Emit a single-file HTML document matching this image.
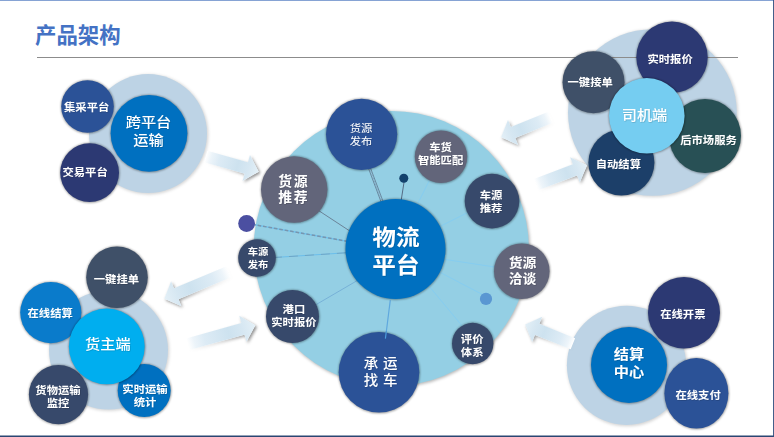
<!DOCTYPE html>
<html lang="zh"><head><meta charset="utf-8"><title>产品架构</title>
<style>
html,body{margin:0;padding:0;background:#fff;}
body{width:774px;height:437px;overflow:hidden;position:relative;font-family:"Liberation Sans","Noto Sans CJK SC",sans-serif;}
svg{position:absolute;left:0;top:0;display:block;}
text{font-family:"Liberation Sans","Noto Sans CJK SC",sans-serif;fill:#fff;text-anchor:middle;}
.ttl{fill:#4472C4;font-weight:700;font-size:21.4px;text-anchor:start;}
</style></head><body>
<svg width="774" height="437" viewBox="0 0 774 437">
<defs>
<filter id="sh" x="-20%" y="-20%" width="140%" height="140%"><feGaussianBlur stdDeviation="0.8"/></filter>
<filter id="sh2" x="-20%" y="-20%" width="140%" height="140%"><feGaussianBlur stdDeviation="1.8"/></filter>
<filter id="ash" x="-30%" y="-60%" width="160%" height="220%"><feGaussianBlur stdDeviation="1.5"/></filter>
<filter id="ts" x="-10%" y="-20%" width="120%" height="150%"><feDropShadow dx="0.5" dy="0.6" stdDeviation="0.15" flood-color="#000" flood-opacity="0.22"/></filter>
</defs>
<rect x="0" y="0" width="774" height="437" fill="#fff"/>
<rect x="0" y="0" width="774" height="1" fill="#86A3D4"/>
<rect x="0" y="435.5" width="774" height="1.5" fill="#2B4672"/>
<rect x="773.1" y="0" width="0.9" height="437" fill="#2F4D7D"/>
<text class="ttl" x="35" y="42.9">产品架构</text>
<ellipse cx="148.8" cy="134.4" rx="59.5" ry="60" fill="#000" fill-opacity="0.17" filter="url(#sh2)"/>
<ellipse cx="148" cy="133.6" rx="59" ry="59.5" fill="#BDD3E5"/>
<ellipse cx="653.2" cy="113.3" rx="84.9" ry="83.8" fill="#000" fill-opacity="0.17" filter="url(#sh2)"/>
<ellipse cx="652.4" cy="112.5" rx="84.4" ry="83.3" fill="#BDD3E5"/>
<ellipse cx="109.3" cy="350.8" rx="60" ry="60" fill="#000" fill-opacity="0.17" filter="url(#sh2)"/>
<ellipse cx="108.5" cy="350" rx="59.5" ry="59.5" fill="#BDD3E5"/>
<ellipse cx="627.3" cy="366.1" rx="60.1" ry="60.1" fill="#000" fill-opacity="0.17" filter="url(#sh2)"/>
<ellipse cx="626.5" cy="365.3" rx="59.6" ry="59.6" fill="#BDD3E5"/>
<rect x="37" y="57" width="701" height="1" fill="#8C8C8C"/>
<ellipse cx="392.1" cy="249.3" rx="138.1" ry="138.1" fill="#000" fill-opacity="0.28" filter="url(#sh2)"/>
<ellipse cx="391.3" cy="248.5" rx="137.6" ry="137.6" fill="#94CFE4"/>
<g transform="translate(205.8 156.5) rotate(15.95)"><linearGradient id="ag1" gradientUnits="userSpaceOnUse" x1="0" y1="0" x2="55.1" y2="0"><stop offset="0" stop-color="#E0EDF6" stop-opacity="0"/><stop offset="0.1" stop-color="#DDEBF5" stop-opacity="0.55"/><stop offset="0.25" stop-color="#D9E9F4" stop-opacity="0.9"/><stop offset="0.6" stop-color="#CDE2EF"/><stop offset="0.8" stop-color="#D6E7F2"/><stop offset="1" stop-color="#E4F0F7"/></linearGradient><linearGradient id="sag1" gradientUnits="userSpaceOnUse" x1="0" y1="0" x2="55.1" y2="0"><stop offset="0" stop-color="#000" stop-opacity="0"/><stop offset="0.4" stop-color="#000" stop-opacity="0.12"/><stop offset="1" stop-color="#000" stop-opacity="0.5"/></linearGradient><polygon points="0.0,-6.0 42.1,-6.0 42.1,-13.5 55.1,0.0 42.1,13.5 42.1,6.0 0.0,6.0" transform="translate(1.85 1.03)" fill="url(#sag1)" filter="url(#ash)"/><polygon points="0.0,-6.0 42.1,-6.0 42.1,-13.5 55.1,0.0 42.1,13.5 42.1,6.0 0.0,6.0" fill="#fff"/><polygon points="0.0,-6.0 42.1,-6.0 42.1,-13.5 55.1,0.0 42.1,13.5 42.1,6.0 0.0,6.0" fill="url(#ag1)"/></g>
<g transform="translate(550.6 117.2) rotate(157.87)"><linearGradient id="ag2" gradientUnits="userSpaceOnUse" x1="0" y1="0" x2="53.5" y2="0"><stop offset="0" stop-color="#E0EDF6" stop-opacity="0"/><stop offset="0.1" stop-color="#DDEBF5" stop-opacity="0.55"/><stop offset="0.25" stop-color="#D9E9F4" stop-opacity="0.9"/><stop offset="0.6" stop-color="#CDE2EF"/><stop offset="0.8" stop-color="#D6E7F2"/><stop offset="1" stop-color="#E4F0F7"/></linearGradient><linearGradient id="sag2" gradientUnits="userSpaceOnUse" x1="0" y1="0" x2="53.5" y2="0"><stop offset="0" stop-color="#000" stop-opacity="0"/><stop offset="0.4" stop-color="#000" stop-opacity="0.12"/><stop offset="1" stop-color="#000" stop-opacity="0.5"/></linearGradient><polygon points="0.0,-6.0 40.5,-6.0 40.5,-13.5 53.5,0.0 40.5,13.5 40.5,6.0 0.0,6.0" transform="translate(-0.82 -1.95)" fill="url(#sag2)" filter="url(#ash)"/><polygon points="0.0,-6.0 40.5,-6.0 40.5,-13.5 53.5,0.0 40.5,13.5 40.5,6.0 0.0,6.0" fill="#fff"/><polygon points="0.0,-6.0 40.5,-6.0 40.5,-13.5 53.5,0.0 40.5,13.5 40.5,6.0 0.0,6.0" fill="url(#ag2)"/></g>
<g transform="translate(536.1 184.7) rotate(-20.95)"><linearGradient id="ag3" gradientUnits="userSpaceOnUse" x1="0" y1="0" x2="54.6" y2="0"><stop offset="0" stop-color="#E0EDF6" stop-opacity="0"/><stop offset="0.1" stop-color="#DDEBF5" stop-opacity="0.55"/><stop offset="0.25" stop-color="#D9E9F4" stop-opacity="0.9"/><stop offset="0.6" stop-color="#CDE2EF"/><stop offset="0.8" stop-color="#D6E7F2"/><stop offset="1" stop-color="#E4F0F7"/></linearGradient><linearGradient id="sag3" gradientUnits="userSpaceOnUse" x1="0" y1="0" x2="54.6" y2="0"><stop offset="0" stop-color="#000" stop-opacity="0"/><stop offset="0.4" stop-color="#000" stop-opacity="0.12"/><stop offset="1" stop-color="#000" stop-opacity="0.5"/></linearGradient><polygon points="0.0,-6.0 41.6,-6.0 41.6,-13.5 54.6,0.0 41.6,13.5 41.6,6.0 0.0,6.0" transform="translate(0.86 1.94)" fill="url(#sag3)" filter="url(#ash)"/><polygon points="0.0,-6.0 41.6,-6.0 41.6,-13.5 54.6,0.0 41.6,13.5 41.6,6.0 0.0,6.0" fill="#fff"/><polygon points="0.0,-6.0 41.6,-6.0 41.6,-13.5 54.6,0.0 41.6,13.5 41.6,6.0 0.0,6.0" fill="url(#ag3)"/></g>
<g transform="translate(228.8 271.8) rotate(157.40)"><linearGradient id="ag4" gradientUnits="userSpaceOnUse" x1="0" y1="0" x2="69.9" y2="0"><stop offset="0" stop-color="#E0EDF6" stop-opacity="0"/><stop offset="0.1" stop-color="#DDEBF5" stop-opacity="0.55"/><stop offset="0.25" stop-color="#D9E9F4" stop-opacity="0.9"/><stop offset="0.6" stop-color="#CDE2EF"/><stop offset="0.8" stop-color="#D6E7F2"/><stop offset="1" stop-color="#E4F0F7"/></linearGradient><linearGradient id="sag4" gradientUnits="userSpaceOnUse" x1="0" y1="0" x2="69.9" y2="0"><stop offset="0" stop-color="#000" stop-opacity="0"/><stop offset="0.4" stop-color="#000" stop-opacity="0.12"/><stop offset="1" stop-color="#000" stop-opacity="0.5"/></linearGradient><polygon points="0.0,-6.0 56.9,-6.0 56.9,-13.5 69.9,0.0 56.9,13.5 56.9,6.0 0.0,6.0" transform="translate(-0.81 -1.96)" fill="url(#sag4)" filter="url(#ash)"/><polygon points="0.0,-6.0 56.9,-6.0 56.9,-13.5 69.9,0.0 56.9,13.5 56.9,6.0 0.0,6.0" fill="#fff"/><polygon points="0.0,-6.0 56.9,-6.0 56.9,-13.5 69.9,0.0 56.9,13.5 56.9,6.0 0.0,6.0" fill="url(#ag4)"/></g>
<g transform="translate(187.7 344.2) rotate(-15.54)"><linearGradient id="ag5" gradientUnits="userSpaceOnUse" x1="0" y1="0" x2="70.3" y2="0"><stop offset="0" stop-color="#E0EDF6" stop-opacity="0"/><stop offset="0.1" stop-color="#DDEBF5" stop-opacity="0.55"/><stop offset="0.25" stop-color="#D9E9F4" stop-opacity="0.9"/><stop offset="0.6" stop-color="#CDE2EF"/><stop offset="0.8" stop-color="#D6E7F2"/><stop offset="1" stop-color="#E4F0F7"/></linearGradient><linearGradient id="sag5" gradientUnits="userSpaceOnUse" x1="0" y1="0" x2="70.3" y2="0"><stop offset="0" stop-color="#000" stop-opacity="0"/><stop offset="0.4" stop-color="#000" stop-opacity="0.12"/><stop offset="1" stop-color="#000" stop-opacity="0.5"/></linearGradient><polygon points="0.0,-6.0 57.3,-6.0 57.3,-13.5 70.3,0.0 57.3,13.5 57.3,6.0 0.0,6.0" transform="translate(1.04 1.85)" fill="url(#sag5)" filter="url(#ash)"/><polygon points="0.0,-6.0 57.3,-6.0 57.3,-13.5 70.3,0.0 57.3,13.5 57.3,6.0 0.0,6.0" fill="#fff"/><polygon points="0.0,-6.0 57.3,-6.0 57.3,-13.5 70.3,0.0 57.3,13.5 57.3,6.0 0.0,6.0" fill="url(#ag5)"/></g>
<g transform="translate(572.9 343.7) rotate(-158.20)"><linearGradient id="ag6" gradientUnits="userSpaceOnUse" x1="0" y1="0" x2="51.5" y2="0"><stop offset="0" stop-color="#E0EDF6" stop-opacity="0"/><stop offset="0.1" stop-color="#DDEBF5" stop-opacity="0.55"/><stop offset="0.25" stop-color="#D9E9F4" stop-opacity="0.9"/><stop offset="0.6" stop-color="#CDE2EF"/><stop offset="0.8" stop-color="#D6E7F2"/><stop offset="1" stop-color="#E4F0F7"/></linearGradient><linearGradient id="sag6" gradientUnits="userSpaceOnUse" x1="0" y1="0" x2="51.5" y2="0"><stop offset="0" stop-color="#000" stop-opacity="0"/><stop offset="0.4" stop-color="#000" stop-opacity="0.12"/><stop offset="1" stop-color="#000" stop-opacity="0.5"/></linearGradient><polygon points="0.0,-6.0 38.5,-6.0 38.5,-13.5 51.5,0.0 38.5,13.5 38.5,6.0 0.0,6.0" transform="translate(-1.95 -0.84)" fill="url(#sag6)" filter="url(#ash)"/><polygon points="0.0,-6.0 38.5,-6.0 38.5,-13.5 51.5,0.0 38.5,13.5 38.5,6.0 0.0,6.0" fill="#fff"/><polygon points="0.0,-6.0 38.5,-6.0 38.5,-13.5 51.5,0.0 38.5,13.5 38.5,6.0 0.0,6.0" fill="url(#ag6)"/></g>
<line x1="367.3" y1="165.2" x2="382.7" y2="206.2" stroke="#56697F" stroke-width="0.7"/>
<line x1="369.2" y1="164.5" x2="384.6" y2="205.5" stroke="#56697F" stroke-width="0.7"/>
<line x1="368.2" y1="164.8" x2="383.7" y2="205.9" stroke="#7FA3BC" stroke-width="1.2" stroke-dasharray="0.8 0.8"/>
<line x1="315.0" y1="208.2" x2="353.6" y2="233.5" stroke="#5F7084" stroke-width="0.8"/>
<line x1="404.3" y1="180.5" x2="400.9" y2="202.2" stroke="#4D5F78" stroke-width="0.9"/>
<line x1="431.8" y1="175.7" x2="415.3" y2="208.4" stroke="#86CDF0" stroke-width="1"/>
<line x1="472.1" y1="210.4" x2="435.9" y2="228.5" stroke="#86CDF0" stroke-width="1"/>
<line x1="442.9" y1="259.1" x2="499.9" y2="267.8" stroke="#86CDF0" stroke-width="1"/>
<line x1="439.8" y1="272.2" x2="484.1" y2="295.4" stroke="#86CDF0" stroke-width="1"/>
<line x1="426.0" y1="282.5" x2="465.3" y2="329.7" stroke="#86CDF0" stroke-width="1"/>
<line x1="390.3" y1="300.1" x2="386.2" y2="332.5" stroke="#5FA8DE" stroke-width="1.2"/>
<line x1="311.5" y1="307.3" x2="361.1" y2="278.3" stroke="#74AED6" stroke-width="0.9"/>
<line x1="273.0" y1="257.6" x2="348.8" y2="252.6" stroke="#66BCEB" stroke-width="0.9"/>
<line x1="273.0" y1="257.6" x2="348.8" y2="252.6" stroke="#6F8FA8" stroke-width="0.9" stroke-dasharray="9 7" stroke-opacity="0.6"/>
<line x1="252.2" y1="224.3" x2="348.8" y2="241.6" stroke="#6CC0EE" stroke-width="1.3"/>
<line x1="252.2" y1="224.3" x2="348.8" y2="241.6" stroke="#7896AF" stroke-width="1.5" stroke-dasharray="3.6 1.9"/>
<circle cx="246.6" cy="223.5" r="8.4" fill="#4B4FA1"/>
<circle cx="403.8" cy="178.2" r="4.5" fill="#12416C"/>
<circle cx="486" cy="298.9" r="6.1" fill="#5A97D2"/>
<ellipse cx="149.2" cy="133.5" rx="38.85" ry="38.85" fill="#000" fill-opacity="0.42" filter="url(#sh)"/>
<ellipse cx="149" cy="133.3" rx="38.4" ry="38.4" fill="#0070C0"/>
<text font-size="13.6" font-weight="500" filter="url(#ts)" transform="translate(148.50 127.32) scale(1.12 1)">跨平台</text>
<text font-size="13.6" font-weight="500" filter="url(#ts)" transform="translate(148.50 144.62) scale(1.12 1)">运输</text>
<ellipse cx="87.7" cy="106.7" rx="26.75" ry="26.75" fill="#000" fill-opacity="0.42" filter="url(#sh)"/>
<ellipse cx="87.5" cy="106.5" rx="26.3" ry="26.3" fill="#2B5297"/>
<text font-size="10.7" font-weight="700" filter="url(#ts)" transform="translate(86.70 110.67) scale(1.06 1)">集采平台</text>
<ellipse cx="89.8" cy="172.9" rx="29.85" ry="29.85" fill="#000" fill-opacity="0.42" filter="url(#sh)"/>
<ellipse cx="89.6" cy="172.7" rx="29.4" ry="29.4" fill="#2C3973"/>
<text font-size="10.7" font-weight="700" filter="url(#ts)" transform="translate(85.10 176.27) scale(1.06 1)">交易平台</text>
<ellipse cx="361.8" cy="134.5" rx="36.05" ry="36.05" fill="#000" fill-opacity="0.42" filter="url(#sh)"/>
<ellipse cx="361.6" cy="134.3" rx="35.6" ry="35.6" fill="#2B5297"/>
<text font-size="10.7" font-weight="400" filter="url(#ts)" transform="translate(361.10 132.27) scale(1.06 1)">货源</text>
<text font-size="10.7" font-weight="400" filter="url(#ts)" transform="translate(361.10 145.27) scale(1.06 1)">发布</text>
<ellipse cx="294.4" cy="189.7" rx="33.65" ry="33.65" fill="#000" fill-opacity="0.42" filter="url(#sh)"/>
<ellipse cx="294.2" cy="189.5" rx="33.2" ry="33.2" fill="#62657A"/>
<text font-size="13.2" font-weight="700" letter-spacing="1.7" filter="url(#ts)" transform="translate(293.85 185.62) scale(1.05 1)">货源</text>
<text font-size="13.2" font-weight="700" letter-spacing="1.7" filter="url(#ts)" transform="translate(293.85 202.22) scale(1.05 1)">推荐</text>
<ellipse cx="441.2" cy="156.9" rx="26.65" ry="26.65" fill="#000" fill-opacity="0.42" filter="url(#sh)"/>
<ellipse cx="441" cy="156.7" rx="26.2" ry="26.2" fill="#62657A"/>
<text font-size="10.7" font-weight="700" filter="url(#ts)" transform="translate(440.60 150.87) scale(1.06 1)">车货</text>
<text font-size="10.7" font-weight="700" filter="url(#ts)" transform="translate(440.60 163.87) scale(1.06 1)">智能匹配</text>
<ellipse cx="492.2" cy="201.3" rx="27.75" ry="27.75" fill="#000" fill-opacity="0.42" filter="url(#sh)"/>
<ellipse cx="492" cy="201.1" rx="27.3" ry="27.3" fill="#37496B"/>
<text font-size="10.7" font-weight="700" filter="url(#ts)" transform="translate(491.00 199.07) scale(1.06 1)">车源</text>
<text font-size="10.7" font-weight="700" filter="url(#ts)" transform="translate(491.00 212.07) scale(1.06 1)">推荐</text>
<ellipse cx="522" cy="271.4" rx="28.25" ry="28.25" fill="#000" fill-opacity="0.42" filter="url(#sh)"/>
<ellipse cx="521.8" cy="271.2" rx="27.8" ry="27.8" fill="#62657A"/>
<text font-size="12.9" font-weight="700" filter="url(#ts)" transform="translate(522.50 266.90) scale(1.07 1)">货源</text>
<text font-size="12.9" font-weight="700" filter="url(#ts)" transform="translate(522.50 282.70) scale(1.07 1)">洽谈</text>
<ellipse cx="472.9" cy="343.7" rx="21.15" ry="21.15" fill="#000" fill-opacity="0.42" filter="url(#sh)"/>
<ellipse cx="472.7" cy="343.5" rx="20.7" ry="20.7" fill="#37496B"/>
<text font-size="10.7" font-weight="700" filter="url(#ts)" transform="translate(472.20 342.77) scale(1.06 1)">评价</text>
<text font-size="10.7" font-weight="700" filter="url(#ts)" transform="translate(472.20 355.57) scale(1.06 1)">体系</text>
<ellipse cx="379.2" cy="372.5" rx="40.75" ry="40.75" fill="#000" fill-opacity="0.42" filter="url(#sh)"/>
<ellipse cx="379" cy="372.3" rx="40.3" ry="40.3" fill="#2B5297"/>
<text font-size="14" font-weight="500" letter-spacing="4.6" filter="url(#ts)" transform="translate(383.10 368.22) scale(1.035 1)">承运</text>
<text font-size="14" font-weight="500" letter-spacing="4.6" filter="url(#ts)" transform="translate(383.10 385.22) scale(1.035 1)">找车</text>
<ellipse cx="292.7" cy="316.6" rx="26.95" ry="26.95" fill="#000" fill-opacity="0.42" filter="url(#sh)"/>
<ellipse cx="292.5" cy="316.4" rx="26.5" ry="26.5" fill="#37496B"/>
<text font-size="10.7" font-weight="700" filter="url(#ts)" transform="translate(293.90 312.87) scale(1.06 1)">港口</text>
<text font-size="10.7" font-weight="700" filter="url(#ts)" transform="translate(293.90 325.87) scale(1.06 1)">实时报价</text>
<ellipse cx="257.2" cy="258.2" rx="19.25" ry="19.25" fill="#000" fill-opacity="0.42" filter="url(#sh)"/>
<ellipse cx="257" cy="258" rx="18.8" ry="18.8" fill="#37496B"/>
<text font-size="9.6" font-weight="700" filter="url(#ts)" transform="translate(258.00 255.00) scale(1.07 1)">车源</text>
<text font-size="9.6" font-weight="700" filter="url(#ts)" transform="translate(258.00 267.50) scale(1.07 1)">发布</text>
<ellipse cx="395.7" cy="249.2" rx="50.45" ry="50.45" fill="#000" fill-opacity="0.42" filter="url(#sh)"/>
<ellipse cx="395.5" cy="249" rx="50" ry="50" fill="#0070C0"/>
<text font-size="22" font-weight="700" filter="url(#ts)" transform="translate(396.00 244.56) scale(1.075 1)">物流</text>
<text font-size="22" font-weight="700" filter="url(#ts)" transform="translate(396.00 272.56) scale(1.075 1)">平台</text>
<ellipse cx="593.7" cy="82.4" rx="31.45" ry="31.45" fill="#000" fill-opacity="0.42" filter="url(#sh)"/>
<ellipse cx="593.5" cy="82.2" rx="31" ry="31" fill="#3F5068"/>
<text font-size="10.7" font-weight="700" filter="url(#ts)" transform="translate(590.20 85.67) scale(1.06 1)">一键接单</text>
<ellipse cx="672.2" cy="57.4" rx="36.15" ry="36.15" fill="#000" fill-opacity="0.42" filter="url(#sh)"/>
<ellipse cx="672" cy="57.2" rx="35.7" ry="35.7" fill="#2C3973"/>
<text font-size="10.7" font-weight="700" filter="url(#ts)" transform="translate(670.10 62.67) scale(1.06 1)">实时报价</text>
<ellipse cx="705.2" cy="136.2" rx="36.45" ry="37.45" fill="#000" fill-opacity="0.42" filter="url(#sh)"/>
<ellipse cx="705" cy="136" rx="36" ry="37" fill="#285055"/>
<text font-size="10.7" font-weight="700" filter="url(#ts)" transform="translate(708.50 143.87) scale(1.06 1)">后市场服务</text>
<ellipse cx="621.6" cy="162.8" rx="33.45" ry="33.45" fill="#000" fill-opacity="0.42" filter="url(#sh)"/>
<ellipse cx="621.4" cy="162.6" rx="33" ry="33" fill="#1C3F69"/>
<text font-size="10.7" font-weight="700" filter="url(#ts)" transform="translate(618.30 168.27) scale(1.06 1)">自动结算</text>
<ellipse cx="647" cy="116" rx="38.25" ry="38.25" fill="#000" fill-opacity="0.42" filter="url(#sh)"/>
<ellipse cx="646.8" cy="115.8" rx="37.8" ry="37.8" fill="#75CDF1"/>
<text font-size="13.6" font-weight="500" filter="url(#ts)" transform="translate(644.50 120.17) scale(1.12 1)">司机端</text>
<ellipse cx="117.2" cy="277.5" rx="31.25" ry="31.25" fill="#000" fill-opacity="0.42" filter="url(#sh)"/>
<ellipse cx="117" cy="277.3" rx="30.8" ry="30.8" fill="#3F5068"/>
<text font-size="10.7" font-weight="700" filter="url(#ts)" transform="translate(116.40 283.07) scale(1.06 1)">一键挂单</text>
<ellipse cx="51" cy="312.8" rx="31.05" ry="31.05" fill="#000" fill-opacity="0.42" filter="url(#sh)"/>
<ellipse cx="50.8" cy="312.6" rx="30.6" ry="30.6" fill="#0A7BCB"/>
<text font-size="10.7" font-weight="700" filter="url(#ts)" transform="translate(50.20 317.27) scale(1.06 1)">在线结算</text>
<ellipse cx="58.7" cy="394.8" rx="30.05" ry="30.05" fill="#000" fill-opacity="0.42" filter="url(#sh)"/>
<ellipse cx="58.5" cy="394.6" rx="29.6" ry="29.6" fill="#37496B"/>
<text font-size="10.7" font-weight="700" filter="url(#ts)" transform="translate(58.00 394.22) scale(1.06 1)">货物运输</text>
<text font-size="10.7" font-weight="700" filter="url(#ts)" transform="translate(58.00 406.92) scale(1.06 1)">监控</text>
<ellipse cx="144.4" cy="390.8" rx="26.95" ry="26.95" fill="#000" fill-opacity="0.42" filter="url(#sh)"/>
<ellipse cx="144.2" cy="390.6" rx="26.5" ry="26.5" fill="#0070C0"/>
<text font-size="10.7" font-weight="700" filter="url(#ts)" transform="translate(145.00 393.22) scale(1.06 1)">实时运输</text>
<text font-size="10.7" font-weight="700" filter="url(#ts)" transform="translate(145.00 405.92) scale(1.06 1)">统计</text>
<ellipse cx="107" cy="346.6" rx="38.35" ry="38.35" fill="#000" fill-opacity="0.42" filter="url(#sh)"/>
<ellipse cx="106.8" cy="346.4" rx="37.9" ry="37.9" fill="#00AEEF"/>
<text font-size="13.6" font-weight="500" filter="url(#ts)" transform="translate(107.80 349.17) scale(1.12 1)">货主端</text>
<ellipse cx="629.2" cy="365.2" rx="38.45" ry="38.45" fill="#000" fill-opacity="0.42" filter="url(#sh)"/>
<ellipse cx="629" cy="365" rx="38" ry="38" fill="#0070C0"/>
<text font-size="13.6" font-weight="700" filter="url(#ts)" transform="translate(628.90 359.42) scale(1.12 1)">结算</text>
<text font-size="13.6" font-weight="700" filter="url(#ts)" transform="translate(628.90 376.72) scale(1.12 1)">中心</text>
<ellipse cx="684.2" cy="312.9" rx="36.45" ry="36.15" fill="#000" fill-opacity="0.42" filter="url(#sh)"/>
<ellipse cx="684" cy="312.7" rx="36" ry="35.7" fill="#2C3973"/>
<text font-size="10.7" font-weight="700" filter="url(#ts)" transform="translate(682.80 318.07) scale(1.06 1)">在线开票</text>
<ellipse cx="696.6" cy="393.5" rx="32.45" ry="35.75" fill="#000" fill-opacity="0.42" filter="url(#sh)"/>
<ellipse cx="696.4" cy="393.3" rx="32" ry="35.3" fill="#2B5297"/>
<text font-size="10.7" font-weight="700" filter="url(#ts)" transform="translate(698.10 399.07) scale(1.06 1)">在线支付</text>
<line x1="386.3" y1="331.5" x2="385.4" y2="338.6" stroke="#4C9DDB" stroke-width="1.2"/>
</svg></body></html>
